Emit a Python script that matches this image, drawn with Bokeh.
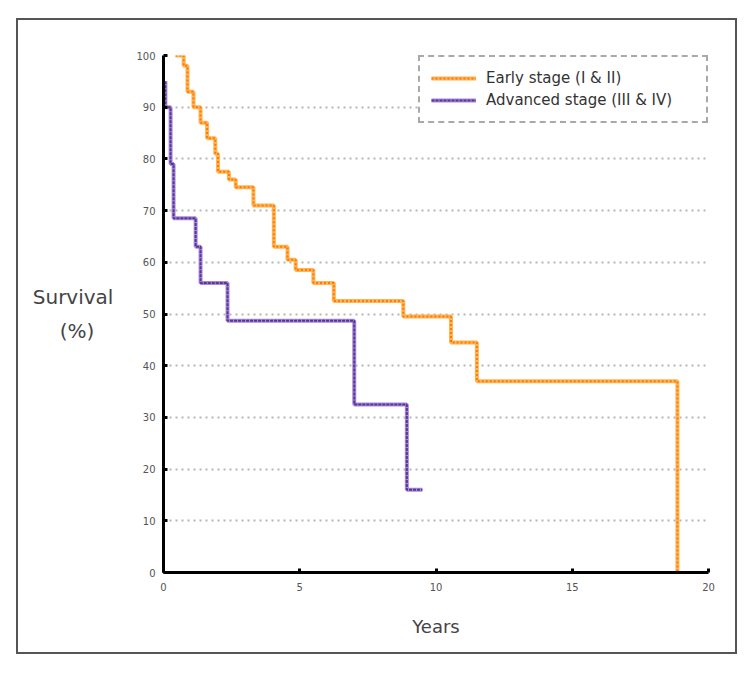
from bokeh.plotting import figure
from bokeh.models import Range1d, Legend, LegendItem, FixedTicker
from bokeh.embed import file_html
from bokeh.resources import INLINE

# Data
early_t = [0.44, 0.74, 0.88, 1.1, 1.36, 1.6, 1.9, 2.0, 2.4, 2.65, 3.3, 4.05, 4.55, 4.85, 5.5, 6.25, 8.8, 10.55, 11.5, 18.86]
early_s = [100, 98, 93, 90, 87, 84, 81, 77.5, 76, 74.5, 71, 63, 60.5, 58.5, 56, 52.5, 49.5, 44.5, 37, 0]
adv_t = [0.07, 0.07, 0.26, 0.37, 1.18, 1.36, 2.35, 7.0, 8.93, 9.5]
adv_s = [95, 90, 79, 68.5, 63, 56, 48.7, 32.5, 16, 16]
x_ticks = [0, 5, 10, 15, 20]
y_ticks = [0, 10, 20, 30, 40, 50, 60, 70, 80, 90, 100]
series_names = ["Early stage (I & II)", "Advanced stage (III & IV)"]

p = figure(width=721, height=636, output_backend="svg", toolbar_location=None,
           x_range=Range1d(0, 20), y_range=Range1d(0, 100),
           min_border_left=145, min_border_right=31, min_border_top=35, min_border_bottom=84)
p.margin = (18, 0, 0, 16)
p.styles = {"border": "2px solid #555555"}
p.outline_line_color = None
p.background_fill_color = "white"
p.border_fill_color = "white"

# grid
p.xgrid.grid_line_color = None
p.ygrid.grid_line_color = "#B5B5B5"
p.ygrid.grid_line_dash = "2 4"
p.ygrid.grid_line_width = 2
p.ygrid.ticker = FixedTicker(ticks=y_ticks[1:])

for ax in (p.xaxis[0], p.yaxis[0]):
    ax.axis_line_color = "black"
    ax.axis_line_width = 3
    ax.major_tick_line_color = "black"
    ax.major_tick_line_width = 3
    ax.major_tick_in = 4
    ax.major_tick_out = 0
    ax.minor_tick_line_color = None
    ax.major_label_text_font = "DejaVu Sans"
    ax.major_label_text_font_size = "10px"
    ax.major_label_text_color = "#555555"
    ax.axis_label_text_font = "DejaVu Sans"
    ax.axis_label_text_font_style = "normal"
    ax.axis_label_text_color = "#444444"
p.xaxis[0].ticker = FixedTicker(ticks=x_ticks)
p.yaxis[0].ticker = FixedTicker(ticks=y_ticks)
p.xaxis[0].major_label_standoff = 10
p.yaxis[0].major_label_standoff = 8

p.xaxis[0].axis_label = "Years"
p.xaxis[0].axis_label_text_font_size = "18px"
p.xaxis[0].axis_label_standoff = 22
p.yaxis[0].axis_label = "Survival\n(%)\u00a0\u00a0\u00a0"
p.yaxis[0].axis_label_orientation = "horizontal"
p.yaxis[0].axis_label_text_font_size = "20px"
p.yaxis[0].axis_label_text_line_height = 1.45
p.yaxis[0].axis_label_standoff = 20

# curves
e1 = p.step(early_t, early_s, mode="after", line_color="#FFB455", line_width=4)
e2 = p.step(early_t, early_s, mode="after", line_color="#FF7A00", line_width=2, line_dash="2 2")
a1 = p.step(adv_t, adv_s, mode="after", line_color="#A58CD6", line_width=4)
a2 = p.step(adv_t, adv_s, mode="after", line_color="#5E3398", line_width=2, line_dash="3 1")

legend = Legend(items=[LegendItem(label=series_names[0], renderers=[e1, e2]),
                       LegendItem(label=series_names[1], renderers=[a1, a2])],
                location="top_right")
legend.margin = 0
legend.padding = 11
legend.spacing = 2
legend.glyph_width = 45
legend.glyph_height = 20
legend.label_height = 20
legend.label_standoff = 10
legend.label_width = 209
legend.label_text_font = "DejaVu Sans"
legend.label_text_font_size = "15px"
legend.label_text_color = "#333333"
legend.border_line_color = "#555555"
legend.border_line_width = 2
legend.border_line_dash = "2 2"
legend.background_fill_color = "white"
legend.background_fill_alpha = 1
p.add_layout(legend)

open("out.html", "w").write(file_html(p, INLINE))
